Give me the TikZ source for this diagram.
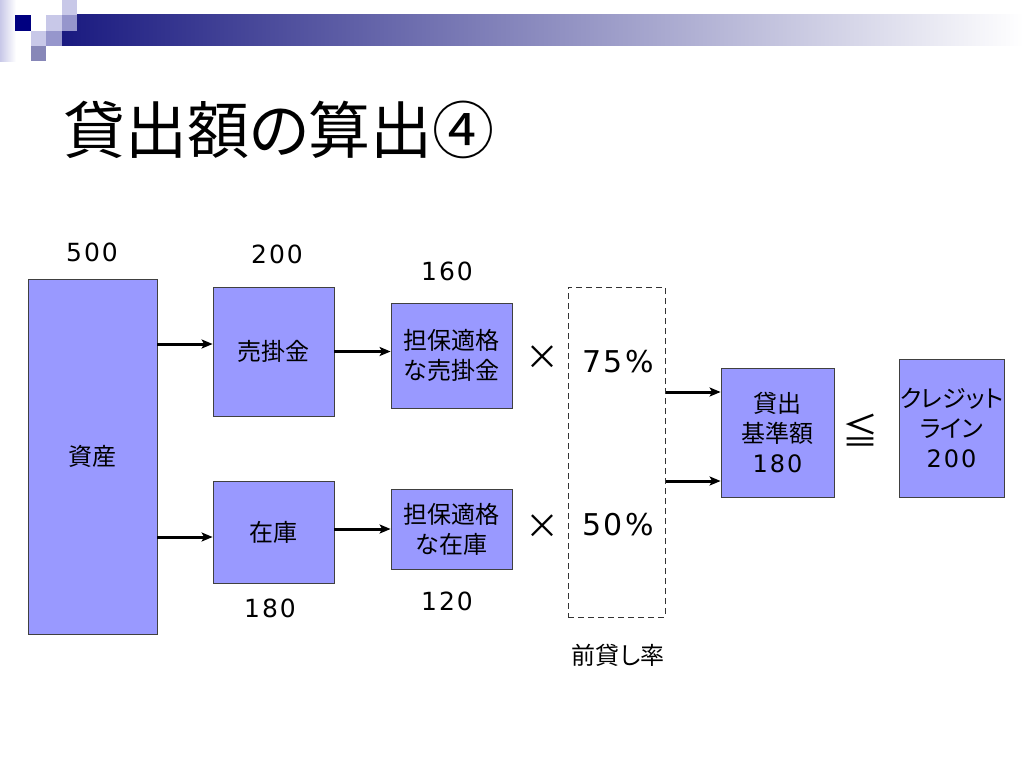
\documentclass[tikz,border=0pt]{standalone}
\usepackage{fontspec}
\setmainfont{Noto Sans CJK JP}[RawFeature=+palt]
\newfontfamily\numfont{DejaVu Sans}[LetterSpace=8]
\usetikzlibrary{arrows.meta, positioning}
\definecolor{boxfill}{RGB}{153,153,255}
\definecolor{navy}{RGB}{0,0,128}
\definecolor{barnavy}{RGB}{26,26,128}
\definecolor{lightsq}{RGB}{200,200,232}
\definecolor{midsq}{RGB}{150,150,204}

\begin{document}
\begin{tikzpicture}[x=1pt, y=-1pt,
    block/.style={rectangle, draw=black!75, fill=boxfill, line width=0.8pt, align=center, inner sep=0pt, font=\fontsize{24}{30}\selectfont},
    amount/.style={inner sep=0pt, font=\numfont\fontsize{25}{30}\selectfont},
    ratebox/.style={rectangle, draw=black!80, line width=1pt, dash pattern=on 6pt off 4pt},
    link/.style={-{Stealth[length=11pt, width=9pt, inset=2.5pt]}, line width=3pt}
]
\useasboundingbox (0,0) rectangle (1024,768);

% Header decoration
\shade[left color=lightsq, right color=white] (0,0) rectangle (16,61);
\shade[left color=barnavy, right color=white] (62,15) rectangle (1024,46);
\fill[navy] (15,15) rectangle (31,31);
\fill[lightsq] (46,15) rectangle (62,31);
\fill[lightsq] (62,0) rectangle (77,15);
\fill[midsq] (62,15) rectangle (77,31);
\fill[lightsq] (31,31) rectangle (46,46);
\fill[midsq] (46,31) rectangle (62,46);
\fill[midsq!90!black] (31,46) rectangle (46,61);

% Title
\node[anchor=west, inner sep=0pt, font=\fontsize{62}{70}\selectfont] at (63,130) (title) {貸出額の算出④};

% Assets and their breakdown
\node[block, minimum width=129pt, minimum height=355pt] at (92.5,456.5) (assets) {資産};
\node[block, minimum width=121pt, minimum height=129pt] at (273.5,351.5) (receivable) {売掛金};
\node[block, minimum width=121pt, minimum height=102pt] at (273.5,532) (inventory) {在庫};

% Eligible amounts
\node[block, minimum width=121pt, minimum height=105pt] at (451.5,355.5) (eligrec) {担保適格\\な売掛金};
\node[block, minimum width=121pt, minimum height=80pt] at (451.5,529) (eliginv) {担保適格\\な在庫};

% Advance rates
\node[ratebox, minimum width=97pt, minimum height=330pt] at (616.5,452) (rates) {};
\node[font=\fontsize{34}{36}\selectfont] at (542,358) (times1) {×};
\node[font=\fontsize{34}{36}\selectfont] at (542,527) (times2) {×};
\node[font=\numfont\fontsize{30}{36}\selectfont] at (618,362) (rate1) {75\%};
\node[font=\numfont\fontsize{30}{36}\selectfont] at (618,525) (rate2) {50\%};
\node[font=\fontsize{24}{30}\selectfont] at (618,655) (ratelabel) {前貸し率};

% Borrowing base and credit line
\node[block, minimum width=113pt, minimum height=129pt] at (777.5,432.5) (base) {貸出\\基準額\\{\numfont 180}};
\node[font=\fontsize{36}{40}\selectfont] at (860,430) (leq) {≦};
\node[block, minimum width=105pt, minimum height=138pt] at (951.5,428) (credit) {クレジット\\ライン\\{\numfont 200}};

% Amounts
\node[amount] at (92,252) (amtassets) {500};
\node[amount] at (277,254) (amtrec) {200};
\node[amount] at (447,271) (amteligrec) {160};
\node[amount] at (270,608) (amtinv) {180};
\node[amount] at (447,601) (amteliginv) {120};

% Arrows
\draw[link] ([yshift=7.5pt]receivable.west -| assets.east) -- ([yshift=7.5pt]receivable.west);
\draw[link] ([yshift=-5pt]inventory.west -| assets.east) -- ([yshift=-5pt]inventory.west);
\draw[link] (receivable.east) -- (receivable.east -| eligrec.west);
\draw[link] (eliginv.west -| inventory.east) -- (eliginv.west);
\draw[link] ([yshift=40.5pt]base.west -| rates.east) -- ([yshift=40.5pt]base.west);
\draw[link] ([yshift=-48.5pt]base.west -| rates.east) -- ([yshift=-48.5pt]base.west);

\end{tikzpicture}
\end{document}
